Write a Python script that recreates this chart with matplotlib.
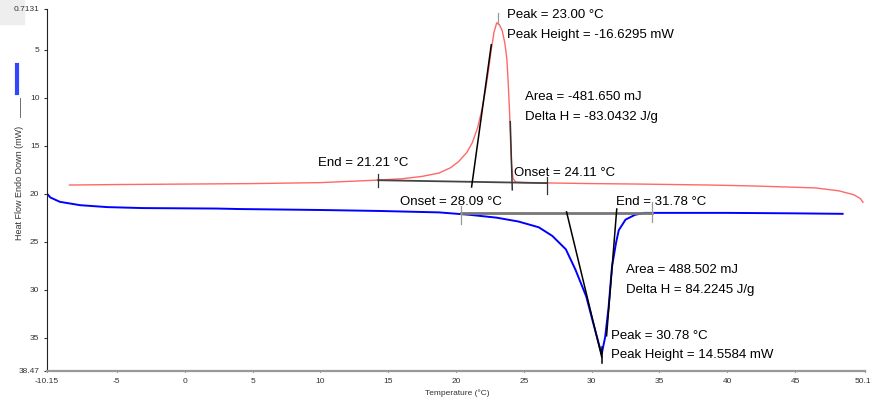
import matplotlib
matplotlib.use("Agg")
import matplotlib.pyplot as plt
from matplotlib.lines import Line2D
from matplotlib.patches import Rectangle

plt.rcParams['font.family'] = ['Liberation Sans', 'DejaVu Sans']

# red curve (cooling run)
red_t = [-8.5, -5, 0, 5, 10, 14, 16, 17.5, 18.75, 19.6, 20.2, 20.8, 21.2, 21.6, 21.9, 22.2, 22.4,
         22.6, 22.8, 23.0, 23.2, 23.4, 23.6, 23.75, 23.85, 23.95, 24.02, 24.1, 24.2, 24.4, 25,
         27.6, 30, 33.5, 38.7, 42, 46.5, 48.2, 49.3, 49.8, 50.0]
red_v = [19.1, 19.05, 19.0, 18.95, 18.85, 18.6, 18.45, 18.2, 17.85, 17.3, 16.65, 15.7, 14.7, 13.1,
         11.3, 9.0, 7.1, 5.0, 3.2, 2.2, 2.4, 3.0, 4.3, 6.0, 8.5, 11.5, 14.5, 17.0, 18.4, 18.8, 18.85,
         18.9, 18.95, 19.0, 19.1, 19.2, 19.4, 19.7, 20.1, 20.5, 20.9]

# blue curve (heating run)
blue_t = [-10.15, -9.9, -9.2, -7.7, -5.7, -3.1, 2.4, 4, 10, 14.3, 18.75, 21, 23, 24.6, 26.1, 27.1,
          28.1, 28.8, 29.6, 30.1, 30.5, 30.74, 31.0, 31.25, 31.5, 31.8, 32.0, 32.5, 33.2, 33.9,
          40, 45, 48.5]
blue_v = [20.0, 20.4, 20.85, 21.2, 21.4, 21.5, 21.55, 21.6, 21.7, 21.8, 21.95, 22.2, 22.5, 22.9,
          23.5, 24.4, 25.8, 27.9, 30.7, 33.4, 35.5, 36.7, 34.9, 31.8, 27.6, 25.1, 23.8, 22.7, 22.2,
          22.0, 22.0, 22.05, 22.1]

# construction lines (baselines, tangents, limits)
red_base_t, red_base_v = [14.26, 26.7], [18.6, 18.9]
red_left_t, red_left_v = [21.15, 22.6], [19.3, 4.5]
red_right_t, red_right_v = [24.15, 24.0], [19.6, 12.5]
blue_base_t, blue_base_v = [20.4, 34.45], [22.05, 22.05]
blue_left_t, blue_left_v = [28.15, 30.74], [21.9, 37.0]
blue_right_t, blue_right_v = [31.85, 31.1], [21.6, 34.8]

xticks = [-10.15, -5, 0, 5, 10, 15, 20, 25, 30, 35, 40, 45, 50.15]
xtick_labels = ["-10.15", "-5", "0", "5", "10", "15", "20", "25", "30", "35", "40", "45", "50.15"]
yticks = [0.7131, 5, 10, 15, 20, 25, 30, 35, 38.47]
ytick_labels = ["0.7131", "5", "10", "15", "20", "25", "30", "35", "38.47"]

fig = plt.figure(figsize=(8.71, 4.03), dpi=100)

# light grey corner box behind the top y label
fig.add_artist(Rectangle((0, 1 - 24 / 403), 24 / 871, 24 / 403, transform=fig.transFigure,
                         color="#eeeeee", zorder=-5))

ax = fig.add_axes([47 / 871, 32 / 403, 818 / 871, 362.5 / 403])
ax.patch.set_alpha(0)

ax.plot(red_t, red_v, color="#ff6868", lw=1.0)
ax.plot(blue_t, blue_v, color="#0000ff", lw=1.4)

ax.plot(red_base_t, red_base_v, color="#444444", lw=1.3)
ax.plot(red_left_t, red_left_v, color="black", lw=1.1)
ax.plot(red_right_t, red_right_v, color="#333333", lw=1.1)
ax.plot([14.26, 14.26], [17.9, 19.3], color="#333333", lw=0.9)
ax.plot([26.7, 26.7], [18.3, 20.0], color="#333333", lw=0.9)
ax.plot([23.1, 23.1], [1.2, 2.3], color="#999999", lw=0.9)

ax.plot(blue_base_t, blue_base_v, color="#777777", lw=2.0)
ax.plot(blue_left_t, blue_left_v, color="black", lw=1.1)
ax.plot(blue_right_t, blue_right_v, color="black", lw=1.1)
ax.plot([20.4, 20.4], [21.3, 23.2], color="#999999", lw=0.9)
ax.plot([34.45, 34.45], [20.9, 22.9], color="#999999", lw=0.9)
ax.plot([30.74, 30.74], [36.0, 37.6], color="black", lw=1.1)

fs = 9.5
ax.text(23.73, 1.37, "Peak = 23.00 °C", fontsize=fs, va="center")
ax.text(23.73, 3.45, "Peak Height = -16.6295 mW", fontsize=fs, va="center")
ax.text(25.05, 9.9, "Area = -481.650 mJ", fontsize=fs, va="center")
ax.text(25.05, 12.0, "Delta H = -83.0432 J/g", fontsize=fs, va="center")
ax.text(9.8, 16.8, "End = 21.21 °C", fontsize=fs, va="center")
ax.text(24.3, 17.8, "Onset = 24.11 °C", fontsize=fs, va="center")
ax.text(15.9, 20.9, "Onset = 28.09 °C", fontsize=fs, va="center")
ax.text(31.76, 20.9, "End = 31.78 °C", fontsize=fs, va="center")
ax.text(32.5, 27.9, "Area = 488.502 mJ", fontsize=fs, va="center")
ax.text(32.5, 30.0, "Delta H = 84.2245 J/g", fontsize=fs, va="center")
ax.text(31.4, 34.8, "Peak = 30.78 °C", fontsize=fs, va="center")
ax.text(31.4, 36.8, "Peak Height = 14.5584 mW", fontsize=fs, va="center")

ax.set_xlim(-10.15, 50.15)
ax.set_ylim(38.47, 0.7131)
ax.set_xticks(xticks)
ax.set_xticklabels(xtick_labels)
ax.set_yticks(yticks)
ax.set_yticklabels(ytick_labels)
ax.tick_params(axis="both", labelsize=6, colors="#333333", length=2, width=0.8)
ax.tick_params(axis="x", direction="inout", pad=4)
for s in ["top", "right"]:
    ax.spines[s].set_visible(False)
ax.spines["left"].set_color("#222222")
ax.spines["bottom"].set_color("#999999")
ax.spines["bottom"].set_linewidth(1.6)

# left-hand legend strip and axis titles
fig.add_artist(Line2D([17 / 871, 17 / 871], [1 - 65 / 403, 1 - 93 / 403], color="#3344ff", lw=3))
fig.add_artist(Line2D([20 / 871, 20 / 871], [1 - 98 / 403, 1 - 117 / 403], color="#555555", lw=0.6))
fig.text(20 / 871, 1 - 183 / 403, "Heat Flow Endo Down (mW)", rotation=90, fontsize=6.5,
         ha="center", va="center", color="#333333")
fig.text(457 / 871, 1 - 393 / 403, "Temperature (°C)", fontsize=6, ha="center", va="center",
         color="#333333")

fig.savefig("out.png", dpi=100)
